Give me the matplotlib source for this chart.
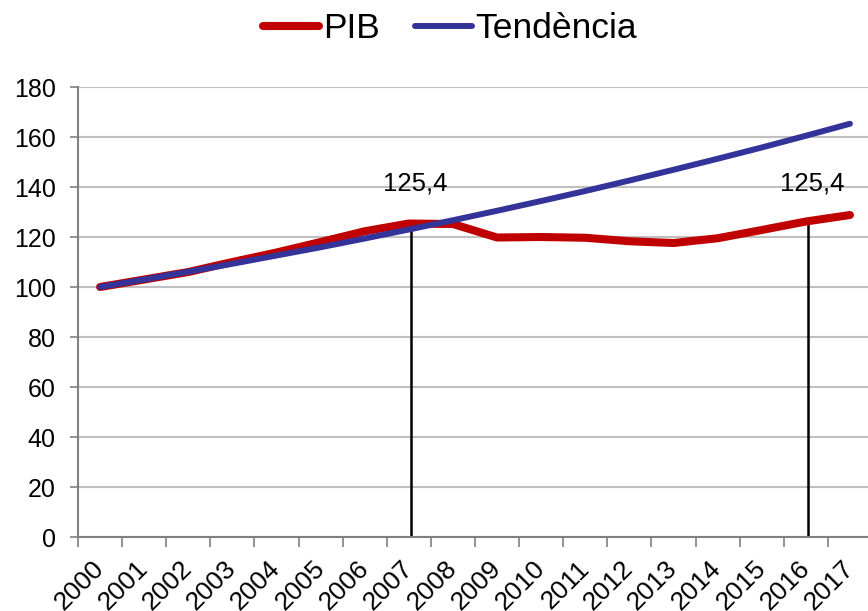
import matplotlib
matplotlib.use("Agg")
import matplotlib.pyplot as plt

# --- Dades ---
anys = [str(a) for a in range(2000, 2018)]
pib = [100.0, 103.0, 106.0, 110.0, 113.8, 118.0, 122.3, 125.4, 125.2, 119.8,
       120.0, 119.7, 118.3, 117.6, 119.5, 122.8, 126.2, 128.8]
tendencia = [100.0, 103.0, 106.1, 109.3, 112.6, 115.9, 119.4, 123.0, 126.7, 130.5,
             134.4, 138.4, 142.6, 146.9, 151.3, 155.8, 160.5, 165.3]
marques_idx = [7, 16]          # 2007 i 2016
marques_val = [125.4, 125.4]
yticks = list(range(0, 181, 20))

plt.rcParams['font.family'] = ['Liberation Sans', 'DejaVu Sans']

fig = plt.figure(figsize=(8.68, 6.11), dpi=100)
ax = fig.add_axes([0.0899, 0.1211, 0.9147, 0.7365])

x = list(range(len(anys)))

# linies verticals de referencia
for i, v in zip(marques_idx, marques_val):
    ax.plot([i + 0.05, i + 0.05], [0, v], color='black', lw=1.8, zorder=2)

ax.plot(x, pib, color='#C00000', lw=5.8, solid_capstyle='round',
        solid_joinstyle='round', label='PIB', zorder=3)
ax.plot(x, tendencia, color='#333399', lw=4.3, solid_capstyle='round',
        label='Tendència', zorder=4)

for i, v in zip(marques_idx, marques_val):
    ax.text(i + 0.15, 141.5, f"{v:.1f}".replace('.', ','), ha='center', va='center',
            fontsize=18.5, color='black', zorder=5)

ax.set_xlim(-0.5, len(anys) - 0.5)
ax.set_ylim(0, 180)
ax.set_yticks(yticks)
ax.tick_params(axis='y', labelsize=18, length=6, width=1.2, color='#808080', pad=10)

# ticks entre categories, etiquetes al centre
ax.set_xticks([i - 0.5 for i in range(len(anys) + 1)])
ax.set_xticklabels([])
ax.set_xticks(x, minor=True)
ax.set_xticklabels(anys, minor=True, rotation=45, ha='right', va='center',
                   rotation_mode='anchor', fontsize=19)
ax.tick_params(axis='x', which='major', length=7, width=1.2, color='#808080')
ax.tick_params(axis='x', which='minor', length=0, pad=20)

ax.grid(axis='y', color='#c0c0c0', lw=1.5, zorder=0)
ax.set_axisbelow(True)
for s in ['top', 'right']:
    ax.spines[s].set_visible(False)
for s in ['left', 'bottom']:
    ax.spines[s].set_color('#808080')
    ax.spines[s].set_linewidth(1.5)

fig.legend(loc='center', bbox_to_anchor=(0.518, 0.953), ncol=2, frameon=False,
           fontsize=25.5, handlelength=1.6, handletextpad=0.1, columnspacing=1.0,
           borderaxespad=0)

fig.savefig('out.png', dpi=100)
